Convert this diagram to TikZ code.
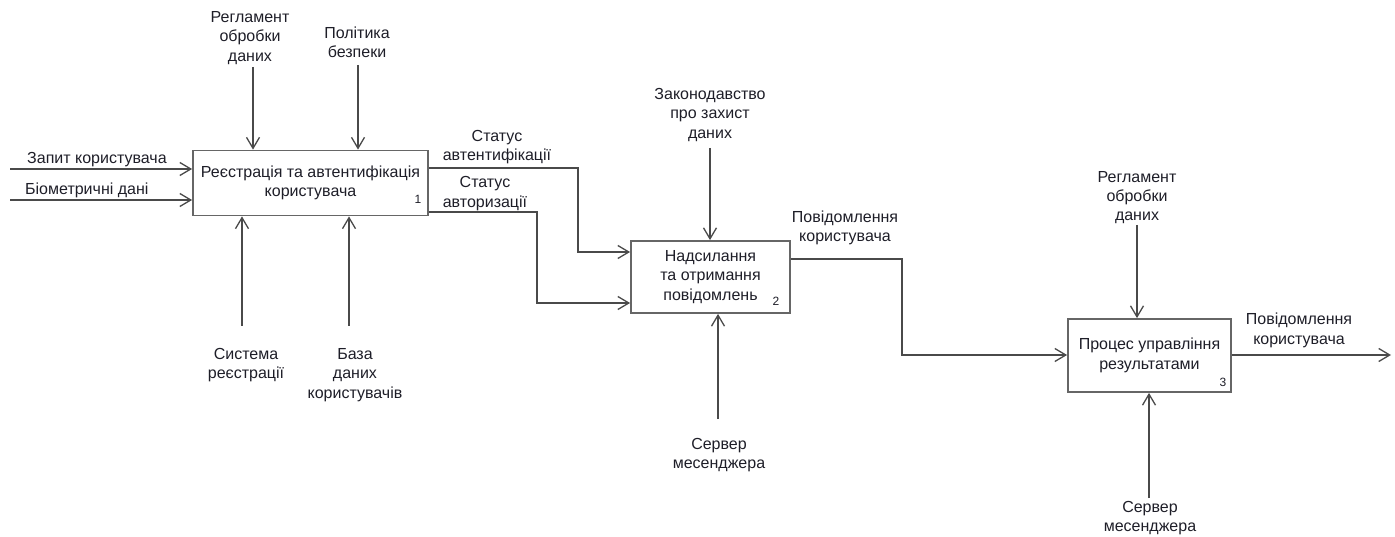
\documentclass[tikz,border=0pt]{standalone}
\usepackage{fontspec}
\setmainfont{Liberation Sans}
\usetikzlibrary{arrows.meta}
\definecolor{linecol}{HTML}{4A4A4A}
\definecolor{boxcol}{HTML}{666666}
\definecolor{txtcol}{HTML}{1E1E28}
\begin{document}
\begin{tikzpicture}[x=1pt,y=-1pt,
  every node/.style={text=txtcol, font=\fontsize{16}{19.4}\selectfont},
  func/.style={draw=boxcol, line width=1.8pt, fill=white, inner sep=0pt, align=center},
  lbl/.style={align=center, inner sep=0pt},
  num/.style={inner sep=0pt, font=\fontsize{12}{13}\selectfont},
  arr/.style={draw=linecol, line width=1.3pt,
    -{Straight Barb[length=11pt,width=13pt,line width=1.3pt]}},
  flow/.style={draw=linecol, line width=1.3pt}]
\useasboundingbox (0,0) rectangle (1395,537);

% activity boxes
\node[func, minimum width=235pt, minimum height=65pt] (b1) at (310.5,183)
  {Реєстрація та автентифікація\\користувача};
\node[func, minimum width=159pt, minimum height=72pt] (b2) at (710.5,277)
  {Надсилання\\та отримання\\повідомлень};
\node[func, minimum width=163pt, minimum height=73pt] (b3) at (1149.5,355.5)
  {Процес управління\\результатами};
\node[num] at (418,199) {1};
\node[num] at (776,301) {2};
\node[num] at (1223,382) {3};

% free ends of the arrows
\coordinate (i1) at (10,169);
\coordinate (i2) at (10,200);
\coordinate (c1a) at (253,67);
\coordinate (c1b) at (358,65);
\coordinate (m1a) at (242,326);
\coordinate (m1b) at (349,326);
\coordinate (c2) at (710,148);
\coordinate (m2) at (718,419);
\coordinate (c3) at (1137,225);
\coordinate (m3) at (1149,498);
\coordinate (o4) at (1391,355);

% inputs, controls and mechanisms of box 1
\draw[arr] (i1) -- (i1 -| b1.west);
\draw[arr] (i2) -- (i2 -| b1.west);
\draw[arr] (c1a) -- (c1a |- b1.north);
\draw[arr] (c1b) -- (c1b |- b1.north);
\draw[arr] (m1a) -- (m1a |- b1.south);
\draw[arr] (m1b) -- (m1b |- b1.south);

\node[lbl, anchor=west] at (27,160) {Запит користувача};
\node[lbl, anchor=west] at (25,190) {Біометричні дані};
\node[lbl] at (250,38) {Регламент\\обробки\\даних};
\node[lbl] at (357,42) {Політика\\безпеки};
\node[lbl] at (246,365) {Система\\реєстрації};
\node[lbl] at (355,375) {База\\даних\\користувачів};

% box 1 to box 2
\draw[arr] (b1.east |- 0,168) -- (578,168) -- (578,252) -- (b2.west |- 0,252);
\draw[arr] (b1.east |- 0,212) -- (537,212) -- (537,303) -- (b2.west |- 0,303);
\node[lbl] at (497,147) {Статус\\автентифікації};
\node[lbl] at (485,193.5) {Статус\\авторизації};

% box 2
\draw[arr] (c2) -- (c2 |- b2.north);
\draw[arr] (m2) -- (m2 |- b2.south);
\node[lbl] at (710,115) {Законодавство\\про захист\\даних};
\node[lbl] at (719,455) {Сервер\\месенджера};

% box 2 to box 3
\draw[arr] (b2.east |- 0,259) -- (902,259) -- (902,355) -- (b3.west |- 0,355);
\node[lbl] at (845,228) {Повідомлення\\користувача};

% box 3
\draw[arr] (c3) -- (c3 |- b3.north);
\draw[arr] (m3) -- (m3 |- b3.south);
\draw[arr] (b3.east |- o4) -- (o4);
\node[lbl] at (1137,197.5) {Регламент\\обробки\\даних};
\node[lbl] at (1150,518) {Сервер\\месенджера};
\node[lbl] at (1299,330.5) {Повідомлення\\користувача};
\end{tikzpicture}
\end{document}
